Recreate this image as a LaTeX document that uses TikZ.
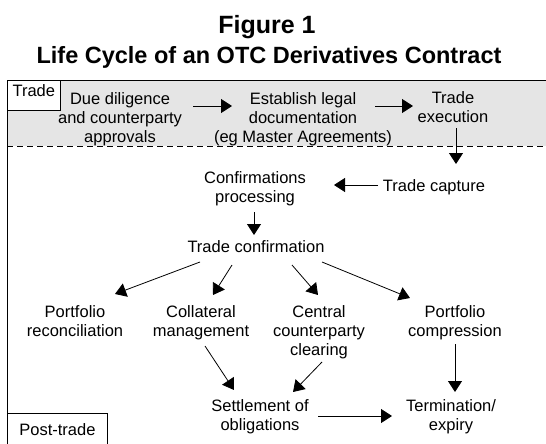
\documentclass[tikz,border=0pt]{standalone}
\usepackage{fontspec}
\setmainfont{Liberation Sans}
\usetikzlibrary{arrows.meta}

\begin{document}
\begin{tikzpicture}[x=1pt,y=-1pt,
    box/.style={align=center, inner sep=0pt, font=\fontsize{16.5}{19}\selectfont},
    tag/.style={draw, fill=white, line width=0.8pt, font=\fontsize{16.5}{19}\selectfont},
    arr/.style={-{Triangle[length=11pt,width=14pt]}, line width=0.8pt}]
    \clip (0,0) rectangle (546,444);
    \fill[gray!20] (7,80) rectangle (560,146);
    \draw[line width=0.8pt] (7,460) -- (7,80) -- (560,80);
    \draw[dash pattern=on 6pt off 4pt, line width=0.8pt] (7,146) -- (560,146);

    \node[anchor=base, font=\fontsize{25}{30}\selectfont\bfseries] (fig) at (267,33.3) {Figure 1};
    \node[anchor=base, font=\fontsize{23.5}{28}\selectfont\bfseries] (title) at (269,63.3)
      {Life Cycle of an OTC Derivatives Contract};

    \node[tag, anchor=base, text height=12pt, text depth=9pt, inner xsep=5.5pt, inner ysep=4.5pt]
      (trade) at (33.8,96.7) {Trade};
    \node[tag, anchor=north west, minimum width=100pt, text height=12pt, text depth=30pt,
      inner ysep=10pt] (post) at (7,413) {Post-trade};

    \node[box] (due) at (120,118.75) {Due diligence\\and counterparty\\approvals};
    \node[box] (legal) at (303,118.75) {Establish legal\\documentation\\(eg Master Agreements)};
    \node[box] (exec) at (453,107.5) {Trade\\execution};
    \node[box] (capture) at (434,187.5) {Trade capture};
    \node[box] (confproc) at (255,188.5) {Confirmations\\processing};
    \node[box] (tconf) at (256,247) {Trade confirmation};
    \node[box] (prec) at (75,321) {Portfolio\\reconciliation};
    \node[box] (coll) at (201,322.75) {Collateral\\management};
    \node[box] (ccp) at (319,332.25) {Central\\counterparty\\clearing};
    \node[box] (pcomp) at (455,322.75) {Portfolio\\compression};
    \node[box] (settle) at (260,416.25) {Settlement of\\obligations};
    \node[box] (term) at (451,416.25) {Termination/\\expiry};

    \foreach \a/\ax/\ay/\b/\bx/\by in {due/73/-12.75/legal/-71/-12.75,
      legal/72/-12.75/exec/-40/-1.5, exec/3/20.5/capture/22/-23.5,
      capture/-56/-2.5/confproc/79/-3.5, confproc/-1/23.5/tconf/-2/-12,
      tconf/-56/15/prec/40/-27, tconf/-24/18/coll/12/-27.75,
      tconf/36/18/ccp/-1/-37.25, tconf/66/15/pcomp/-45/-24.75,
      coll/4/23.25/settle/-26/-26.25, ccp/3/29.75/settle/33/-24.25,
      pcomp/0/21.25/term/4/-24.25, settle/58/-0.25/term/-59/-0.25}{
      \draw[arr] ([shift={(\ax,\ay)}]\a.center) -- ([shift={(\bx,\by)}]\b.center);
    }
\end{tikzpicture}
\end{document}
